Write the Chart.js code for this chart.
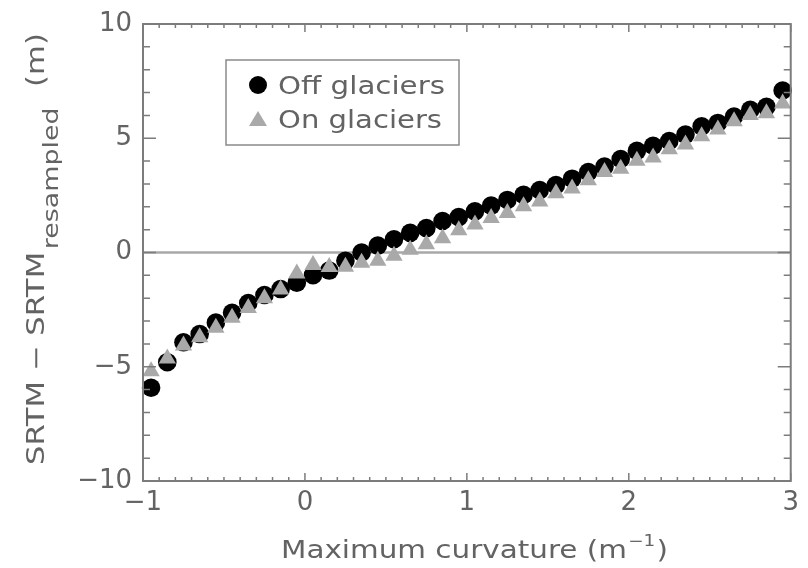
<!DOCTYPE html>
<html>
<head>
<meta charset="utf-8">
<script src="https://cdn.jsdelivr.net/npm/chart.js@4.4.1/dist/chart.umd.min.js"></script>
<style>
  html, body { margin: 0; padding: 0; background: #fff; }
  canvas { display: block; }
</style>
</head>
<body>
<canvas id="chart" width="808" height="568"></canvas>
<script>
// data
const curvature = [-0.95, -0.85, -0.75, -0.65, -0.55, -0.45, -0.35, -0.25, -0.15, -0.05,
                   0.05, 0.15, 0.25, 0.35, 0.45, 0.55, 0.65, 0.75, 0.85, 0.95,
                   1.05, 1.15, 1.25, 1.35, 1.45, 1.55, 1.65, 1.75, 1.85, 1.95,
                   2.05, 2.15, 2.25, 2.35, 2.45, 2.55, 2.65, 2.75, 2.85, 2.95];
const offGlaciers = [-5.92, -4.80, -3.93, -3.57, -3.07, -2.64, -2.21, -1.86, -1.60, -1.32,
                     -0.99, -0.79, -0.36, 0.00, 0.30, 0.58, 0.86, 1.07, 1.38, 1.55,
                     1.80, 2.05, 2.30, 2.52, 2.73, 2.95, 3.23, 3.52, 3.76, 4.09,
                     4.45, 4.67, 4.88, 5.16, 5.52, 5.67, 5.95, 6.24, 6.38, 7.09];
const onGlaciers = [-5.20, -4.64, -4.07, -3.71, -3.29, -2.86, -2.43, -2.00, -1.62, -0.92,
                    -0.55, -0.64, -0.62, -0.45, -0.36, -0.14, 0.12, 0.36, 0.62, 0.97,
                    1.23, 1.51, 1.73, 2.02, 2.23, 2.59, 2.80, 3.16, 3.52, 3.66,
                    4.02, 4.16, 4.52, 4.73, 5.09, 5.38, 5.74, 6.02, 6.09, 6.52];
const xTicks = [-1, 0, 1, 2, 3];
const yTicks = [-10, -5, 0, 5, 10];
const legendLabels = ["Off glaciers", "On glaciers"];

const FONT = "'DejaVu Sans', sans-serif";
const TEXT = "#636363";
const AXIS = "#7c7c7c";
const GREY = "#a9a9a9";

function fmt(v) {
    return v < 0 ? "\u2212" + Math.abs(v) : String(v);
}

// draw text squeezed/stretched to a given width
function fitText(ctx, str, x, y, width) {
    const w = ctx.measureText(str).width;
    ctx.save();
    ctx.translate(x, y);
    ctx.scale(width / w, 1);
    ctx.fillText(str, 0, 0);
    ctx.restore();
}

// 🧱 FRAME, TICKS, LEGEND, TITLES
const frame = {
    id: "frame",
    beforeDatasetsDraw(chart) {
        const { ctx, chartArea: a, scales: { y } } = chart;
        const y0 = y.getPixelForValue(0);
        ctx.save();
        ctx.strokeStyle = "#a8a8a8";
        ctx.lineWidth = 2.5;
        ctx.beginPath();
        ctx.moveTo(a.left, y0);
        ctx.lineTo(a.right, y0);
        ctx.stroke();
        ctx.restore();
    },
    afterDatasetsDraw(chart) {
        const { ctx, chartArea: a, scales: { x, y } } = chart;
        ctx.save();
        ctx.strokeStyle = AXIS;
        ctx.lineWidth = 2;
        ctx.strokeRect(a.left, a.top, a.right - a.left, a.bottom - a.top);

        ctx.lineWidth = 1.5;
        ctx.beginPath();
        // x ticks: major every 1, minor every 0.1
        for (let i = 0; i <= 40; i++) {
            const px = x.getPixelForValue(x.min + i / 10);
            const len = i % 10 === 0 ? 8 : 4;
            ctx.moveTo(px, a.bottom); ctx.lineTo(px, a.bottom - len);
            ctx.moveTo(px, a.top); ctx.lineTo(px, a.top + len);
        }
        // y ticks: major every 5, minor every 1
        for (let i = 0; i <= 20; i++) {
            const py = y.getPixelForValue(y.min + i);
            const len = i % 5 === 0 ? 13 : 7;
            ctx.moveTo(a.left, py); ctx.lineTo(a.left + len, py);
            ctx.moveTo(a.right, py); ctx.lineTo(a.right - len, py);
        }
        ctx.stroke();

        // legend box
        ctx.strokeStyle = "#8a8a8a";
        ctx.lineWidth = 1.5;
        ctx.strokeRect(226, 60, 233, 85);
        ctx.fillStyle = "#000";
        ctx.beginPath();
        ctx.arc(258, 85, 9, 0, Math.PI * 2);
        ctx.fill();
        ctx.fillStyle = GREY;
        ctx.beginPath();
        ctx.moveTo(258, 111);
        ctx.lineTo(267, 126);
        ctx.lineTo(249, 126);
        ctx.closePath();
        ctx.fill();

        ctx.fillStyle = TEXT;
        ctx.font = "25px " + FONT;
        ctx.textBaseline = "alphabetic";
        fitText(ctx, legendLabels[0], 278, 94, 167);
        fitText(ctx, legendLabels[1], 278, 128, 164);
        ctx.restore();
    },
    afterDraw(chart) {
        const { ctx } = chart;
        ctx.save();
        ctx.fillStyle = TEXT;
        ctx.textBaseline = "alphabetic";

        // x title with superscript
        const main = "Maximum curvature (m";
        ctx.font = "24px " + FONT;
        const w1 = ctx.measureText(main).width;
        ctx.font = "15px " + FONT;
        const w2 = ctx.measureText("\u22121").width;
        ctx.font = "24px " + FONT;
        const w3 = ctx.measureText(")").width;
        const k = 387 / (w1 + w2 + w3 + 2);
        ctx.translate(281, 558);
        ctx.scale(k, 1);
        ctx.fillText(main, 0, 0);
        ctx.font = "15px " + FONT;
        ctx.fillText("\u22121", w1 + 1, -12);
        ctx.font = "24px " + FONT;
        ctx.fillText(")", w1 + w2 + 2, 0);
        ctx.restore();

        // y title, rotated, with subscript
        ctx.save();
        ctx.fillStyle = TEXT;
        ctx.textBaseline = "alphabetic";
        ctx.font = "24px " + FONT;
        const a1 = "SRTM \u2212 SRTM";
        const b1 = ctx.measureText(a1).width;
        ctx.font = "21px " + FONT;
        const b2 = ctx.measureText("resampled").width;
        ctx.font = "24px " + FONT;
        const b3 = ctx.measureText("(m)").width;
        const gap = 16;
        const ky = 432 / (b1 + b2 + b3 + gap + 2);
        ctx.translate(44, 465);
        ctx.rotate(-Math.PI / 2);
        ctx.scale(ky, 1);
        ctx.fillText(a1, 0, 0);
        ctx.font = "21px " + FONT;
        ctx.fillText("resampled", b1 + 2, 14);
        ctx.font = "24px " + FONT;
        ctx.fillText("(m)", b1 + b2 + 2 + gap, 0);
        ctx.restore();
    }
};

// 📈 SCATTER
const ctx = document.getElementById("chart").getContext("2d");
const chart = new Chart(ctx, {
    type: "scatter",
    data: {
        datasets: [{
            label: legendLabels[0],
            data: curvature.map((c, i) => ({ x: c, y: offGlaciers[i] })),
            pointStyle: "circle",
            pointRadius: 9.3,
            pointBorderWidth: 0,
            backgroundColor: "#000",
            borderColor: "#000",
            order: 1,
            clip: false
        }, {
            label: legendLabels[1],
            data: curvature.map((c, i) => ({ x: c, y: onGlaciers[i] })),
            pointStyle: "triangle",
            pointRadius: 10,
            pointBorderWidth: 0,
            backgroundColor: GREY,
            borderColor: GREY,
            order: 0,
            clip: false
        }]
    },
    options: {
        responsive: false,
        animation: false,
        layout: { padding: { top: 13, right: 8, left: 0, bottom: 0 } },
        plugins: { legend: { display: false }, tooltip: { enabled: false } },
        scales: {
            x: {
                type: "linear",
                min: -1,
                max: 3,
                afterBuildTicks: s => { s.ticks = xTicks.map(v => ({ value: v })); },
                afterFit: s => { s.height = 87; },
                grid: { display: false, drawTicks: false },
                border: { display: false },
                ticks: {
                    color: TEXT,
                    font: { family: FONT, size: 26, lineHeight: 1 },
                    padding: 9,
                    maxRotation: 0,
                    callback: v => fmt(v)
                }
            },
            y: {
                type: "linear",
                min: -10,
                max: 10,
                afterBuildTicks: s => { s.ticks = yTicks.map(v => ({ value: v })); },
                afterFit: s => { s.width = 143; },
                grid: { display: false, drawTicks: false },
                border: { display: false },
                ticks: {
                    color: TEXT,
                    font: { family: FONT, size: 26, lineHeight: 1 },
                    padding: 11,
                    callback: v => fmt(v)
                }
            }
        }
    },
    plugins: [frame]
});
</script>
</body>
</html>
